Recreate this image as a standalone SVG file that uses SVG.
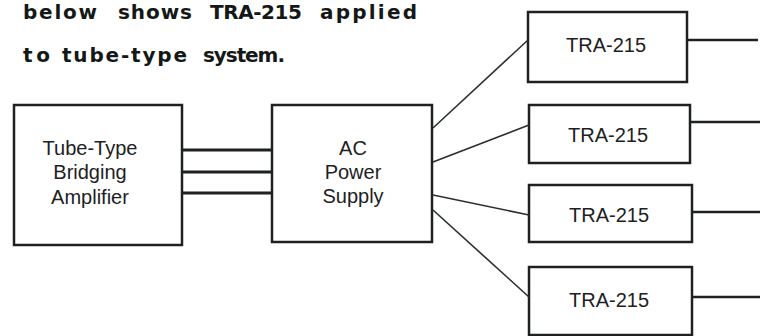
<svg xmlns="http://www.w3.org/2000/svg" width="765" height="336" viewBox="0 0 765 336">
<style>
.box{fill:none;stroke:#1d211f;stroke-width:2.5}
.lbl{font-family:"Liberation Sans",Arial,sans-serif;font-size:20px;fill:#1d211f;text-anchor:middle}
.hd{font-family:"DejaVu Sans","Liberation Sans",sans-serif;font-size:20px;font-weight:bold;fill:#141816}
.wire{stroke:#1d211f;stroke-width:3;fill:none}
.fan{stroke:#2a302e;stroke-width:1.6;fill:none}
.out{stroke:#1d211f;stroke-width:2.5;fill:none}
</style>
<rect width="765" height="336" fill="#ffffff"/>
<g id="heading">
<text class="hd" x="23" y="19" textLength="74" lengthAdjust="spacing">below</text>
<text class="hd" x="118" y="19" textLength="74" lengthAdjust="spacing">shows</text>
<text class="hd" x="210" y="19" textLength="92" lengthAdjust="spacing">TRA-215</text>
<text class="hd" x="320" y="19" textLength="97" lengthAdjust="spacing">applied</text>
<text class="hd" x="23" y="62" textLength="27" lengthAdjust="spacing">to</text>
<text class="hd" x="62" y="62" textLength="125" lengthAdjust="spacing">tube-type</text>
<text class="hd" x="203" y="62" textLength="82" lengthAdjust="spacing">system.</text>
</g>
<g id="amp">
<rect class="box" x="14" y="105" width="168" height="140"/>
<text class="lbl" x="90" y="155">Tube-Type</text>
<text class="lbl" x="90" y="179">Bridging</text>
<text class="lbl" x="90" y="204">Amplifier</text>
</g>
<g id="psu">
<rect class="box" x="272" y="105" width="160" height="137"/>
<text class="lbl" x="353" y="155">AC</text>
<text class="lbl" x="353" y="179">Power</text>
<text class="lbl" x="353" y="203">Supply</text>
</g>
<g id="tra1">
<rect class="box" x="528" y="12" width="159" height="70"/>
<text class="lbl" x="606" y="52">TRA-215</text>
</g>
<g id="tra2">
<rect class="box" x="529" y="105" width="161" height="58"/>
<text class="lbl" x="608" y="142">TRA-215</text>
</g>
<g id="tra3">
<rect class="box" x="529" y="185" width="163" height="57"/>
<text class="lbl" x="609" y="222">TRA-215</text>
</g>
<g id="tra4">
<rect class="box" x="529" y="267" width="163" height="68"/>
<text class="lbl" x="609" y="307">TRA-215</text>
</g>
<g id="connectors">
<line class="wire" x1="182" y1="150" x2="272" y2="150"/>
<line class="wire" x1="182" y1="172" x2="272" y2="172"/>
<line class="wire" x1="182" y1="193" x2="272" y2="193"/>
<line class="fan" x1="433" y1="128" x2="528" y2="40"/>
<line class="fan" x1="433" y1="162" x2="529" y2="125"/>
<line class="fan" x1="433" y1="195" x2="529" y2="215"/>
<line class="fan" x1="433" y1="210" x2="529" y2="297"/>
<line class="out" x1="687" y1="40" x2="758" y2="40"/>
<line class="out" x1="690" y1="122" x2="760" y2="122"/>
<line class="out" x1="692" y1="212" x2="760" y2="212"/>
<line class="out" x1="692" y1="297" x2="760" y2="297"/>
</g>
</svg>
